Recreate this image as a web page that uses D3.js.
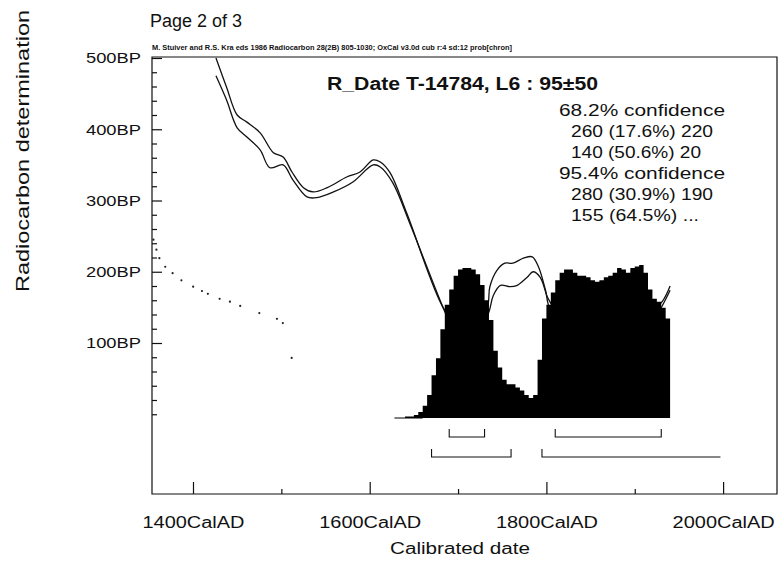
<!DOCTYPE html>
<html>
<head>
<meta charset="utf-8">
<script src="https://cdn.jsdelivr.net/npm/d3@7"></script>
<style>
  body { margin: 0; background: #fff; }
  svg text { font-family: "Liberation Sans", Arial, sans-serif; fill: #111; }
</style>
</head>
<body>
<div id="chart"></div>
<script>
// ---- data ----
const xTickYears = [1400, 1600, 1800, 2000];
const xTickLabels = ["1400CalAD", "1600CalAD", "1800CalAD", "2000CalAD"];
const xMinorYears = [1500, 1700, 1900];
const yTickBP = [500, 400, 300, 200, 100];
const yTickLabels = ["500BP", "400BP", "300BP", "200BP", "100BP"];
const yMinorBP = [480, 460, 440, 420, 380, 360, 340, 320, 280, 260, 240, 220, 180, 160, 140, 120, 80, 60, 40, 20, 0];

// calibration curve, upper and lower 1 sigma line (cal AD, BP)
const upperYears = [1426, 1438, 1450, 1461, 1476, 1491, 1502, 1512, 1525, 1536, 1552, 1574, 1589, 1604, 1612, 1623, 1642, 1683, 1700, 1715, 1733, 1736, 1744, 1753, 1762, 1774, 1784, 1791, 1799, 1804, 1820, 1845, 1870, 1895, 1915, 1931, 1940];
const upperBP    = [500, 459, 420, 410, 395, 367, 361, 340, 318, 312, 318, 333, 340, 357, 354, 339, 282, 150, 125, 120, 150, 179, 202, 212, 212, 219, 221, 207, 174, 149, 135, 125, 120, 125, 140, 158, 180];
const lowerYears = [1426, 1438, 1450, 1461, 1476, 1487, 1502, 1513, 1529, 1540, 1559, 1581, 1604, 1612, 1626, 1646, 1685, 1700, 1715, 1734, 1740, 1748, 1759, 1767, 1778, 1785, 1793, 1801, 1807, 1820, 1845, 1870, 1895, 1915, 1931, 1940];
const lowerBP    = [475, 441, 402, 389, 371, 346, 350, 329, 305, 304, 312, 326, 350, 347, 325, 266, 144, 105, 100, 140, 167, 181, 179, 181, 192, 200, 192, 165, 151, 110, 100, 95, 100, 120, 152, 174];

// calibrated probability (5 year bins, relative %)
const histYears = [1635, 1640, 1645, 1650, 1655, 1660, 1665, 1670, 1675, 1680, 1685, 1690, 1695, 1700, 1705, 1710, 1715, 1720, 1725, 1730, 1735, 1740, 1745, 1750, 1755, 1760, 1765, 1770, 1775, 1780, 1785, 1790, 1795, 1800, 1805, 1810, 1815, 1820, 1825, 1830, 1835, 1840, 1845, 1850, 1855, 1860, 1865, 1870, 1875, 1880, 1885, 1890, 1895, 1900, 1905, 1910, 1915, 1920, 1925, 1930, 1935];
const histProb  = [0, 1, 1, 2, 4, 8, 15, 28, 39, 58, 74, 84, 93, 97, 98, 98, 97, 94, 87, 77, 64, 44, 33, 25, 22, 22, 20, 18, 15, 13, 15, 38, 65, 74, 82, 90, 95, 97, 97, 95, 93, 93, 92, 90, 89, 90, 92, 93, 95, 98, 97, 95, 98, 99, 100, 95, 84, 78, 76, 72, 65];

// radiocarbon date 95±50 drawn along the BP axis
const dateBP   = [245, 231, 219, 207, 198, 188, 179, 173, 169, 162, 158, 152, 142, 134, 128, 79];
const dateProb = [0.01, 0.03, 0.05, 0.09, 0.14, 0.20, 0.28, 0.34, 0.38, 0.46, 0.53, 0.60, 0.73, 0.85, 0.89, 0.95];

// ranges (cal AD)
const range68 = [[1690, 1730], [1810, 1930]];
const range95 = [[1670, 1760], [1795, 1997]];

const titleText = "R_Date T-14784, L6 : 95\u00b150";
const confLines = ["68.2% confidence", "260 (17.6%) 220", "140 (50.6%) 20", "95.4% confidence", "280 (30.9%) 190", "155 (64.5%) ..."];
const confWidths = [166, 142, 130, 166, 142, 128];

// ---- layout ----
const W = 778, H = 565;
const plot = { left: 152, right: 777, top: 57, bottom: 494 };

const svg = d3.select("#chart").append("svg")
  .attr("width", W).attr("height", H);

const x = d3.scaleLinear().domain([1353.6, 2061]).range([plot.left, plot.right]);
const y = d3.scaleLinear().domain([500, 100]).range([58, 343]);
const histY = d3.scaleLinear().domain([0, 100]).range([418, 265]);
const dateX = d3.scaleLinear().domain([0, 1]).range([plot.left, plot.left + 147]);

svg.append("clipPath").attr("id", "clip")
  .append("rect")
  .attr("x", plot.left).attr("y", plot.top)
  .attr("width", plot.right - plot.left).attr("height", plot.bottom - plot.top);

const g = svg.append("g").attr("clip-path", "url(#clip)");

// calibration curve
const curveLine = d3.line()
  .x(d => x(d[0])).y(d => y(d[1]))
  .curve(d3.curveCatmullRom.alpha(0.5));

[[upperYears, upperBP], [lowerYears, lowerBP]].forEach(([ys, bp]) => {
  g.append("path")
    .datum(ys.map((v, i) => [v, bp[i]]))
    .attr("d", curveLine)
    .attr("fill", "none")
    .attr("stroke", "#111")
    .attr("stroke-width", 1.3);
});

// probability histogram on top
const histData = histYears.map((v, i) => [v, histProb[i]]);
histData.push([1940, histProb[histProb.length - 1]]);
g.append("path")
  .datum(histData)
  .attr("d", d3.area()
    .x(d => x(d[0])).y0(histY(0)).y1(d => histY(d[1]))
    .curve(d3.curveStepAfter))
  .attr("fill", "#000");
g.append("line")
  .attr("x1", x(1628)).attr("x2", x(1660))
  .attr("y1", histY(0)).attr("y2", histY(0))
  .attr("stroke", "#000").attr("stroke-width", 1);

// radiocarbon date dots
g.selectAll(".datedot")
  .data(dateBP.map((v, i) => [v, dateProb[i]]))
  .enter().append("circle")
  .attr("class", "datedot")
  .attr("cx", d => dateX(d[1]))
  .attr("cy", d => y(d[0]))
  .attr("r", 1.1)
  .attr("fill", "#222");

// range brackets
function drawRanges(ranges, yPos, openEnd) {
  ranges.forEach((r, i) => {
    const last = openEnd && i === ranges.length - 1;
    const x0 = x(r[0]), x1 = x(r[1]);
    const d = last
      ? `M${x0},${yPos - 8}V${yPos}H${x1}`
      : `M${x0},${yPos - 8}V${yPos}H${x1}V${yPos - 8}`;
    g.append("path").attr("d", d)
      .attr("fill", "none").attr("stroke", "#111").attr("stroke-width", 1.1);
  });
}
drawRanges(range68, 437, false);
drawRanges(range95, 457, true);

// ---- frame & axes ----
svg.append("path")
  .attr("d", `M${plot.left},${plot.top}H${plot.right}V${plot.bottom}H${plot.left}Z`)
  .attr("fill", "none").attr("stroke", "#111").attr("stroke-width", 1.2);

const yMinorAxis = d3.axisRight(y).tickValues(yMinorBP).tickSize(5).tickFormat("");
const yMajorAxis = d3.axisRight(y).tickValues(yTickBP).tickSize(10).tickFormat("");
[yMinorAxis, yMajorAxis].forEach(ax => {
  const a = svg.append("g").attr("transform", `translate(${plot.left},0)`).call(ax);
  a.select(".domain").remove();
  a.selectAll("line").attr("stroke", "#111").attr("stroke-width", 1.2);
});
const yLab = svg.append("g").attr("transform", `translate(${plot.left},0)`)
  .call(d3.axisLeft(y).tickValues(yTickBP).tickSize(0).tickPadding(11)
    .tickFormat((d, i) => yTickLabels[i]));
yLab.select(".domain").remove();
yLab.selectAll("text")
  .style("font-size", "15.5px")
  .attr("textLength", 55).attr("lengthAdjust", "spacingAndGlyphs");

const xMinorAxis = d3.axisTop(x).tickValues(xMinorYears).tickSize(5).tickFormat("");
const xMajorAxis = d3.axisTop(x).tickValues(xTickYears).tickSize(12).tickFormat("");
[xMinorAxis, xMajorAxis].forEach(ax => {
  const a = svg.append("g").attr("transform", `translate(0,${plot.bottom})`).call(ax);
  a.select(".domain").remove();
  a.selectAll("line").attr("stroke", "#111").attr("stroke-width", 1.2);
});
const xLab = svg.append("g").attr("transform", `translate(0,${plot.bottom})`)
  .call(d3.axisBottom(x).tickValues(xTickYears).tickSize(0).tickPadding(22.6)
    .tickFormat((d, i) => xTickLabels[i]));
xLab.select(".domain").remove();
xLab.selectAll("text")
  .style("font-size", "16px")
  .attr("textLength", 102).attr("lengthAdjust", "spacingAndGlyphs");

// ---- texts ----
svg.append("text").attr("x", 150).attr("y", 27)
  .style("font-size", "18px")
  .attr("textLength", 92).attr("lengthAdjust", "spacingAndGlyphs")
  .text("Page 2 of 3");

svg.append("text").attr("x", 152).attr("y", 49.5)
  .style("font-size", "7px").style("font-weight", "bold")
  .attr("textLength", 360).attr("lengthAdjust", "spacingAndGlyphs")
  .text("M. Stuiver and R.S. Kra eds  1986 Radiocarbon 28(2B)  805-1030;  OxCal v3.0d cub r:4 sd:12 prob[chron]");

svg.append("text").attr("x", 327).attr("y", 90)
  .style("font-size", "18px").style("font-weight", "bold")
  .attr("textLength", 271).attr("lengthAdjust", "spacingAndGlyphs")
  .text(titleText);

svg.selectAll(".conf")
  .data(confLines)
  .enter().append("text")
  .attr("class", "conf")
  .attr("x", (d, i) => (i % 3 === 0 ? 559 : 571))
  .attr("y", (d, i) => 116 + i * 21)
  .style("font-size", "16px")
  .attr("textLength", (d, i) => confWidths[i])
  .attr("lengthAdjust", "spacingAndGlyphs")
  .text(d => d);

svg.append("text")
  .attr("text-anchor", "middle")
  .attr("x", 460).attr("y", 554)
  .style("font-size", "16px")
  .attr("textLength", 140).attr("lengthAdjust", "spacingAndGlyphs")
  .text("Calibrated date");

svg.append("text")
  .attr("text-anchor", "middle")
  .attr("transform", "translate(29,151) rotate(-90)")
  .style("font-size", "19px")
  .attr("textLength", 282).attr("lengthAdjust", "spacingAndGlyphs")
  .text("Radiocarbon determination");
</script>
</body>
</html>
